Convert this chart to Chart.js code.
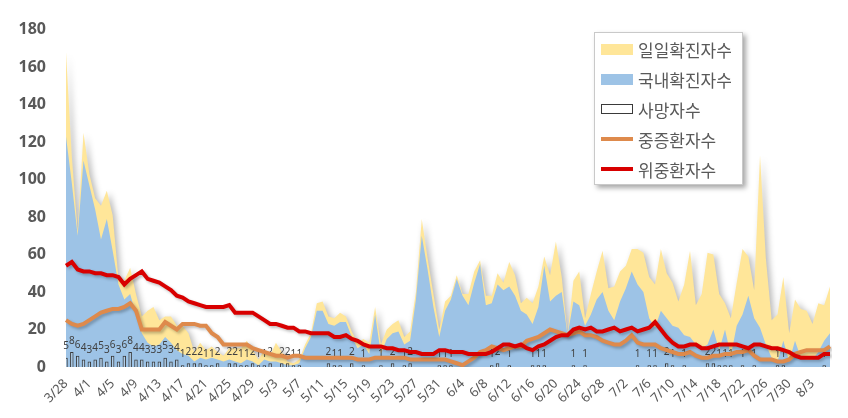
<!DOCTYPE html>
<html lang="ko">
<head>
<meta charset="utf-8">
<title>확진자 추이</title>
<script src="https://cdn.jsdelivr.net/npm/chart.js@4.4.1/dist/chart.umd.min.js"></script>
<style>
    body { margin: 0; background: #fff; }
    #wrap { position: relative; width: 848px; height: 418px; }
    #legend {
        position: absolute; left: 594px; top: 32px; width: 149px; height: 153px;
        box-sizing: border-box; border: 1px solid #c9c9c9; background: #fff;
        box-shadow: 3px 3px 5px rgba(0, 0, 0, 0.35);
        font-family: "Noto Sans CJK KR", sans-serif; font-size: 17px; color: #595959;
    }
    #legend .item { position: absolute; left: 6px; height: 22px; display: flex; align-items: center; white-space: nowrap; }
    #legend .sw { width: 32px; margin-right: 5px; box-sizing: border-box; }
</style>
</head>
<body>
<div id="wrap">
    <canvas id="chart" width="848" height="418"></canvas>
    <div id="legend"></div>
</div>
<script>
const dates = [
    '3/28','3/29','3/30','3/31',
    '4/1','4/2','4/3','4/4','4/5','4/6','4/7','4/8','4/9','4/10','4/11','4/12','4/13','4/14','4/15',
    '4/16','4/17','4/18','4/19','4/20','4/21','4/22','4/23','4/24','4/25','4/26','4/27','4/28','4/29','4/30',
    '5/1','5/2','5/3','5/4','5/5','5/6','5/7','5/8','5/9','5/10','5/11','5/12','5/13','5/14','5/15','5/16',
    '5/17','5/18','5/19','5/20','5/21','5/22','5/23','5/24','5/25','5/26','5/27','5/28','5/29','5/30','5/31',
    '6/1','6/2','6/3','6/4','6/5','6/6','6/7','6/8','6/9','6/10','6/11','6/12','6/13','6/14','6/15',
    '6/16','6/17','6/18','6/19','6/20','6/21','6/22','6/23','6/24','6/25','6/26','6/27','6/28','6/29','6/30',
    '7/1','7/2','7/3','7/4','7/5','7/6','7/7','7/8','7/9','7/10','7/11','7/12','7/13','7/14','7/15','7/16',
    '7/17','7/18','7/19','7/20','7/21','7/22','7/23','7/24','7/25','7/26','7/27','7/28','7/29','7/30','7/31',
    '8/1','8/2','8/3','8/4','8/5','8/6'
];

// labels shown under the x axis
const shownDates = ['3/28','4/1','4/5','4/9','4/13','4/17','4/21','4/25','4/29','5/3','5/7','5/11','5/15',
    '5/19','5/23','5/27','5/31','6/4','6/8','6/12','6/16','6/20','6/24','6/28','7/2','7/6','7/10','7/14',
    '7/18','7/22','7/26','7/30','8/3'];

const yTicks = [0, 20, 40, 60, 80, 100, 120, 140, 160, 180];

const seriesNames = ['일일확진자수', '국내확진자수', '사망자수', '중증환자수', '위중환자수'];

const dailyCases = [
    168,112,72,125,103,90,86,94,81,47,
    46,53,39,27,30,32,25,27,27,22,
    22,18,8,13,9,11,8,6,10,10,
    10,14,9,4,9,6,13,8,3,2,
    4,12,18,34,35,27,26,29,27,19,
    13,15,13,32,12,20,23,25,16,19,
    40,79,58,39,20,35,38,49,39,39,
    51,57,38,38,50,45,56,49,34,37,
    34,43,59,49,67,48,17,46,51,26,
    39,51,62,42,43,51,54,63,63,61,
    48,44,63,50,45,35,44,62,33,39,
    61,60,39,34,26,45,63,59,41,113,
    58,25,28,48,18,36,31,30,23,34,
    33,43
];

const localCases = [
    123,98,70,110,97,84,68,79,62,44,
    36,39,28,18,13,11,12,16,13,9,
    7,6,3,5,4,5,4,3,4,3,
    2,4,3,1,4,3,3,2,1,1,
    2,10,16,30,30,23,22,24,24,16,
    10,12,7,28,7,15,18,19,12,14,
    36,70,52,32,16,30,36,47,38,33,
    45,55,33,34,44,41,43,38,30,28,
    23,32,54,35,38,40,17,35,33,22,
    28,36,40,30,25,35,42,51,44,40,
    26,21,30,26,22,21,17,16,12,10,
    12,20,9,20,6,22,28,38,26,21,
    12,5,3,14,3,14,5,4,4,8,
    14,18
];

const deaths = [
    5,8,6,4,3,4,5,3,6,3,
    6,8,4,4,3,3,3,5,3,4,
    1,2,2,2,1,1,2,0,2,2,
    1,1,2,1,1,2,0,2,2,1,
    1,0,0,0,0,2,1,1,0,2,
    0,1,0,0,1,0,2,0,1,2,
    0,0,0,0,1,1,1,0,0,0,
    0,0,0,1,2,0,1,0,0,0,
    1,1,1,0,0,0,0,1,0,1,
    0,0,0,0,0,0,0,0,1,0,
    1,1,0,2,1,0,1,0,0,0,
    2,2,1,1,1,0,1,0,1,0,
    0,0,1,1,0,0,0,0,0,0,
    1,0
];

const severe = [
    25,23,22,23,25,27,29,30,31,31,
    32,34,30,20,20,20,20,24,22,20,
    23,23,23,22,22,18,16,12,12,12,
    12,12,10,9,8,7,6,6,5,6,
    6,5,5,5,5,5,5,5,5,5,
    4,4,4,5,5,5,5,5,5,4,
    4,4,4,4,4,4,3,2,1,3,
    5,8,9,11,10,9,10,11,11,14,
    15,16,18,20,19,18,17,18,19,17,
    17,16,14,13,12,12,14,17,13,12,
    12,12,10,9,8,7,7,8,6,5,
    5,6,6,7,7,8,8,9,6,4,
    4,4,3,3,4,7,8,9,9,9,
    9,11
];

const critical = [
    54,56,52,51,51,50,50,49,49,48,
    44,47,49,51,47,46,45,43,41,38,
    37,35,34,33,32,32,32,32,33,29,
    29,29,29,27,25,23,23,22,21,21,
    19,19,18,18,18,18,16,16,17,15,
    14,12,11,11,11,10,10,9,9,8,
    8,7,7,7,9,9,8,8,8,7,
    7,7,7,8,10,12,12,11,12,10,
    9,11,12,14,16,17,17,20,21,20,
    21,19,19,20,21,19,20,21,19,20,
    21,24,20,16,13,11,11,12,12,10,
    10,11,12,12,12,12,11,10,12,12,
    11,10,10,9,8,6,5,5,5,5,
    7,7
];

const colors = {
    daily: '#FFE699',
    local: '#9DC3E6',
    deathBorder: '#3a3a3a',
    severe: '#DE8A4C',
    critical: '#D80000',
    text: '#595959'
};

const FONT = '"Noto Sans", "Noto Sans CJK KR", sans-serif';

// shadows like the spreadsheet original + labels over the death bars
const extras = {
    id: 'extras',
    beforeDatasetsDraw(chart) {
        // the yellow area is drawn first, give it a soft shadow
        let ctx = chart.ctx;
        ctx.shadowColor = 'rgba(0,0,0,0.28)';
        ctx.shadowBlur = 6;
        ctx.shadowOffsetX = 3;
        ctx.shadowOffsetY = 2;
    },
    beforeDatasetDraw(chart, args) {
        let ds = chart.data.datasets[args.index];
        let ctx = chart.ctx;
        if (ds.type === 'line' && !ds.fill) {
            ctx.shadowColor = 'rgba(0,0,0,0.25)';
            ctx.shadowBlur = 3;
            ctx.shadowOffsetX = 2;
            ctx.shadowOffsetY = 2;
        }
    },
    afterDatasetDraw(chart, args) {
        let ctx = chart.ctx;
        ctx.shadowColor = 'rgba(0,0,0,0)';
        ctx.shadowBlur = 0;
        ctx.shadowOffsetX = 0;
        ctx.shadowOffsetY = 0;

        if (chart.data.datasets[args.index].type !== 'bar') return;
        let meta = chart.getDatasetMeta(args.index);
        ctx.save();
        ctx.font = '10px ' + FONT;
        ctx.fillStyle = '#404040';
        ctx.textAlign = 'center';
        ctx.textBaseline = 'middle';
        meta.data.forEach((bar, i) => {
            if (!deaths[i]) return;
            ctx.fillText(String(deaths[i]), bar.x, bar.y - 11);
        });
        ctx.restore();
    }
};

new Chart(document.getElementById('chart'), {
    data: {
        labels: dates,
        datasets: [
            {
                type: 'line', label: seriesNames[4], data: critical, order: 0,
                borderColor: colors.critical, borderWidth: 4, pointRadius: 0, fill: false, tension: 0
            },
            {
                type: 'line', label: seriesNames[3], data: severe, order: 1,
                borderColor: colors.severe, borderWidth: 4, pointRadius: 0, fill: false, tension: 0
            },
            {
                type: 'bar', label: seriesNames[2], data: deaths, order: 2,
                backgroundColor: 'rgba(255,255,255,0.2)', borderColor: colors.deathBorder, borderWidth: 1,
                barPercentage: 0.6, categoryPercentage: 1
            },
            {
                type: 'line', label: seriesNames[1], data: localCases, order: 3,
                backgroundColor: colors.local, borderWidth: 0, pointRadius: 0, fill: 'origin', tension: 0
            },
            {
                type: 'line', label: seriesNames[0], data: dailyCases, order: 4,
                backgroundColor: colors.daily, borderWidth: 0, pointRadius: 0, fill: 'origin', tension: 0
            }
        ]
    },
    options: {
        responsive: false,
        animation: false,
        devicePixelRatio: 1,
        layout: { padding: { top: 25, right: 18, left: 0, bottom: 0 } },
        plugins: {
            legend: { display: false },
            tooltip: { enabled: false }
        },
        scales: {
            x: {
                type: 'category',
                offset: false,
                grid: { display: false, drawTicks: false },
                border: { display: false },
                afterFit: (scale) => { scale.height = 51; },
                ticks: {
                    autoSkip: false,
                    minRotation: 45,
                    maxRotation: 45,
                    padding: 9,
                    color: colors.text,
                    font: { family: FONT, size: 13 },
                    callback: function(value) {
                        let lbl = this.getLabelForValue(value);
                        return shownDates.includes(lbl) ? lbl : null;
                    }
                }
            },
            y: {
                min: 0,
                max: 180,
                grid: { display: false, drawTicks: false },
                border: { display: false },
                afterFit: (scale) => { scale.width = 66; },
                afterBuildTicks: (scale) => { scale.ticks = yTicks.map(v => ({ value: v })); },
                ticks: {
                    padding: 20,
                    color: colors.text,
                    font: { family: FONT, size: 16, weight: 'bold' }
                }
            }
        }
    },
    plugins: [extras]
});

// legend box in the upper right, like the original
function buildLegend() {
    let box = document.getElementById('legend');
    let swatches = [
        { style: 'height:11px;background:' + colors.daily },
        { style: 'height:11px;background:' + colors.local },
        { style: 'height:10px;background:#fff;border:1px solid ' + colors.deathBorder },
        { style: 'height:4px;background:' + colors.severe },
        { style: 'height:4px;background:' + colors.critical }
    ];
    seriesNames.forEach((name, i) => {
        let item = document.createElement('div');
        item.className = 'item';
        item.style.top = (5 + i * 30) + 'px';
        item.innerHTML = `<span class="sw" style="${swatches[i].style}"></span><span>${name}</span>`;
        box.appendChild(item);
    });
}
buildLegend();
</script>
</body>
</html>
